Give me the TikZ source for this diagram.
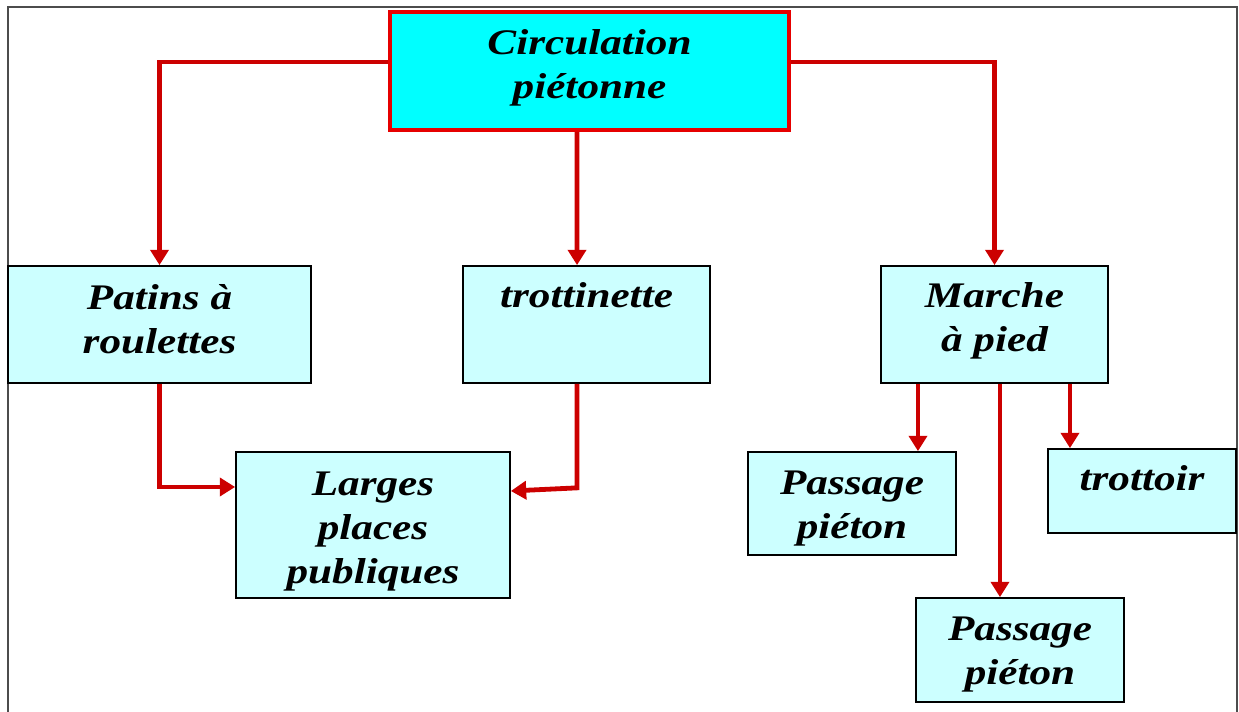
\documentclass[tikz,border=0pt]{standalone}
\usepackage{fontspec}
\setmainfont{Liberation Serif}[FakeStretch=1.2]
\usetikzlibrary{arrows.meta}
\definecolor{boxfill}{HTML}{CCFFFF}
\definecolor{topfill}{HTML}{00FFFF}
\definecolor{arrred}{HTML}{CC0000}
\definecolor{topred}{HTML}{E60000}
\newcommand\txtline[2][0pt]{\smash{\raisebox{#1}{#2}}}
\begin{document}
\begin{tikzpicture}[x=0.75pt,y=-0.75pt,
  txt/.style={font=\fontsize{27}{33}\selectfont\bfseries\itshape, align=center, inner sep=0pt},
  lbox/.style={txt, draw=black, line width=1.3pt, fill=boxfill},
  tbox/.style={txt, draw=topred, line width=3pt, fill=topfill},
  arr/.style={draw=arrred, line width=3.6pt, -{Triangle[width=13.5pt,length=11.5pt]}}]
\useasboundingbox (0,0) rectangle (1239,712);
% frame
\draw[gray!60!black, line width=1.4pt] (8,712) -- (8,7) -- (1237,7) -- (1237,712);
% boxes
\node[tbox, minimum width=299pt, minimum height=88.5pt] (top) at (589.5,71)
  {\txtline[-4.5pt]{Circulation}\\\txtline[-4.5pt]{piétonne}};
\node[lbox, minimum width=227pt, minimum height=87.75pt] (patins) at (159.5,324.5)
  {\txtline[-5pt]{Patins à}\\\txtline[-5pt]{roulettes}};
\node[lbox, minimum width=185pt, minimum height=87.75pt] (trott) at (586.5,324.5)
  {\txtline[13pt]{trottinette}};
\node[lbox, minimum width=170pt, minimum height=87.75pt] (marche) at (994.5,324.5)
  {\txtline[-4pt]{Marche}\\\txtline[-4pt]{à pied}};
\node[lbox, minimum width=205.5pt, minimum height=109.5pt] (larges) at (373,525)
  {\txtline[-11pt]{Larges}\\\txtline[-11pt]{places}\\\txtline[-11pt]{publiques}};
\node[lbox, minimum width=156pt, minimum height=77.25pt] (pp1) at (852,503.5)
  {\txtline[-9.5pt]{Passage}\\\txtline[-9.5pt]{piéton}};
\node[lbox, minimum width=141pt, minimum height=63pt] (trottoir) at (1142,491)
  {\txtline[0pt]{trottoir}};
\node[lbox, minimum width=156pt, minimum height=78pt] (pp2) at (1020,650)
  {\txtline[-9.5pt]{Passage}\\\txtline[-9.5pt]{piéton}};
% connectors
\draw[arr] ([yshift=6.75pt]top.west) -| (patins.north);
\draw[arr] ([xshift=-9.4pt]top.south) -- ([xshift=-7.1pt]trott.north);
\draw[arr] ([yshift=6.75pt]top.east) -| (marche.north);
\draw[arr] (patins.south) |- ([yshift=28.5pt]larges.west);
\coordinate (tb) at ([xshift=-7.1pt,yshift=-78pt]trott.south);
\draw[arr] ([xshift=-7.1pt]trott.south) -- (tb) -- ([yshift=25.5pt]larges.east);
\coordinate (m1) at ([xshift=-57.4pt]marche.south);
\coordinate (m2) at ([xshift=4.1pt]marche.south);
\coordinate (m3) at ([xshift=56.6pt]marche.south);
\draw[arr] (m1) -- (m1 |- pp1.north);
\draw[arr] (m2) -- (m2 |- pp2.north);
\draw[arr] (m3) -- (m3 |- trottoir.north);
\end{tikzpicture}
\end{document}
